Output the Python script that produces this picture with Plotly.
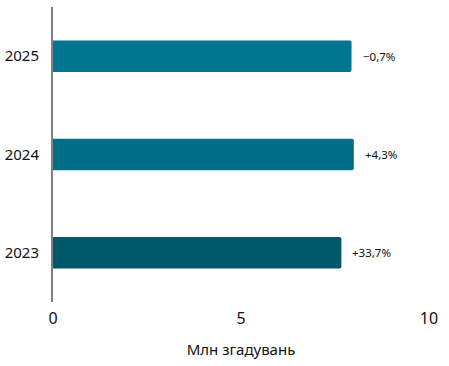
import plotly.graph_objects as go

years = ["2023", "2024", "2025"]
values = [7.67, 8.00, 7.94]
changes = ["+33,7%", "+4,3%", "\u22120,7%"]
colors = ["#00586b", "#006e87", "#00758f"]
x_ticks = [0, 5, 10]
x_title = "Млн згадувань"

fig = go.Figure()
fig.add_trace(go.Bar(
    y=years, x=values, orientation="h",
    marker=dict(color=colors, cornerradius=2, line=dict(width=0)),
    width=0.32, hoverinfo="skip",
))
for i, (v, c) in enumerate(zip(values, changes)):
    fig.add_annotation(x=v, y=i, xref="x", yref="y", text=c, showarrow=False,
                       xanchor="left", xshift=9, font=dict(size=11.5, color="#111"))

fig.update_layout(
    width=449, height=366,
    margin=dict(l=53, r=20, t=7, b=64),
    plot_bgcolor="white", paper_bgcolor="white",
    showlegend=False,
    font=dict(family="Noto Sans, Open Sans, sans-serif", color="#111"),
    xaxis=dict(range=[0, 10], tickvals=x_ticks, showgrid=False, zeroline=False,
               showline=False, ticks="", tickfont=dict(size=16),
               ticklabelstandoff=5, automargin=False,
               title=dict(text=x_title, font=dict(size=15), standoff=16),
               fixedrange=True),
    yaxis=dict(type="category", categoryorder="array", categoryarray=years,
               range=[-0.5, 2.5], showgrid=False, zeroline=False,
               showline=True, linecolor="#808080", linewidth=2,
               ticks="", tickfont=dict(size=15), ticklabelstandoff=9,
               automargin=False, fixedrange=True),
)
fig.write_html("out.html")
